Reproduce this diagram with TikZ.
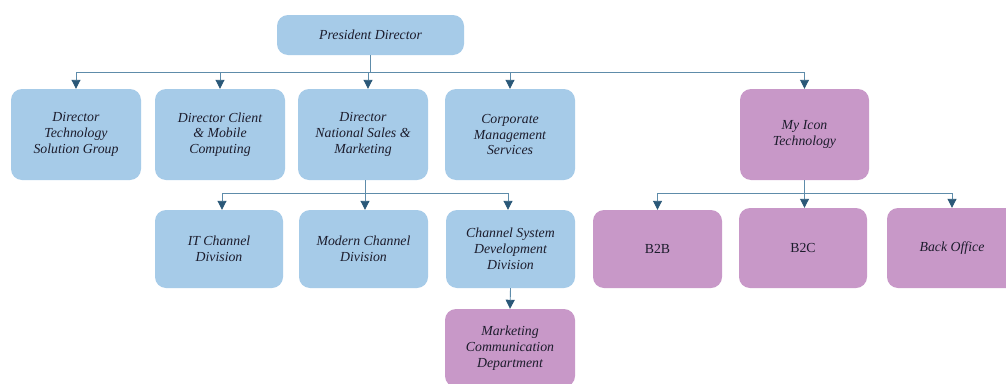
\documentclass[tikz,border=0pt]{standalone}
\usepackage{fontspec}
\setmainfont{Liberation Serif}
\usetikzlibrary{arrows.meta}
\definecolor{boxblue}{HTML}{A6CBE8}
\definecolor{boxpink}{HTML}{C898C8}
\definecolor{linec}{HTML}{5E8CAA}
\definecolor{tipc}{HTML}{2A5878}
\definecolor{txt}{HTML}{1C1C2C}
\begin{document}
\begin{tikzpicture}[x=1pt,y=-1pt,
  box/.style={rounded corners=11pt, inner sep=2pt, align=center, text=txt,
    font=\itshape\fontsize{13.8}{15.8}\selectfont, minimum width=130pt, minimum height=91pt},
  bluebox/.style={box, fill=boxblue},
  pinkbox/.style={box, fill=boxpink},
  wire/.style={draw=linec, line width=0.9pt},
  arr/.style={wire, -{Triangle[width=9pt,length=9pt,color=tipc]}}
]
\useasboundingbox[fill=white] (0,0) rectangle (1006,383);
% top
\node[bluebox, minimum width=187pt, minimum height=40pt] (pres) at (370.5,35) {President Director};
% row 1
\node[bluebox] (d1) at (76,134.5) {Director\\Technology\\Solution Group};
\node[bluebox] (d2) at (220,134.5) {Director Client\\\& Mobile\\Computing};
\node[bluebox] (d3) at (363,134.5) {Director\\National Sales \&\\Marketing};
\node[bluebox] (d4) at (510,134.5) {Corporate\\Management\\Services};
\node[pinkbox, minimum width=129pt] (icon) at (804.5,134.5) {My Icon\\Technology};
% row 2 left
\node[bluebox, minimum width=128pt, minimum height=78pt] (it) at (219,249) {IT Channel\\Division};
\node[bluebox, minimum width=129pt, minimum height=78pt] (mod) at (363.5,249) {Modern Channel\\Division};
\node[bluebox, minimum width=129pt, minimum height=78pt] (csd) at (510.5,249) {Channel System\\Development\\Division};
% row 2 right
\node[pinkbox, minimum width=129pt, minimum height=78pt, font=\fontsize{13.8}{15.8}\selectfont] (b2b) at (657.5,249) {B2B};
\node[pinkbox, minimum width=128pt, minimum height=80pt, font=\fontsize{13.8}{15.8}\selectfont] (b2c) at (803,248) {B2C};
\node[pinkbox, minimum width=130pt, minimum height=80pt] (back) at (952,248) {Back Office};
% bottom
\node[pinkbox, minimum width=130pt, minimum height=78pt] (mcd) at (510,348) {Marketing\\Communication\\Department};
% connectors top level
\coordinate (bus1) at (370.5,72);
\coordinate (bus1l) at (76,72);
\coordinate (bus1r) at (804.5,72);
\draw[wire] (pres.south) -- (bus1);
\draw[wire] (bus1l) -- (bus1r);
\draw[arr] (bus1) -| (d1.north);
\draw[arr] (bus1) -| (d2.north);
\draw[arr] (bus1) -| ([xshift=5pt]d3.north);
\draw[arr] (bus1) -| (d4.north);
\draw[arr] (bus1) -| (icon.north);
% d3 children
\coordinate (bus2) at (365,193);
\draw[wire] ([xshift=2pt]d3.south) -- (bus2);
\draw[arr] (bus2) -| ([xshift=3pt]it.north);
\draw[arr] (bus2) -| ([xshift=1.5pt]mod.north);
\draw[arr] (bus2) -| ([xshift=-2.5pt]csd.north);
% icon children
\coordinate (bus3) at (804.5,193);
\draw[wire] (icon.south) -- (bus3);
\draw[arr] (bus3) -| (b2b.north);
\draw[arr] (bus3) -| ([xshift=1.5pt]b2c.north);
\draw[arr] (bus3) -| (back.north);
% csd to mcd
\draw[arr] (csd.south) -- (mcd.north);
\end{tikzpicture}
\end{document}
